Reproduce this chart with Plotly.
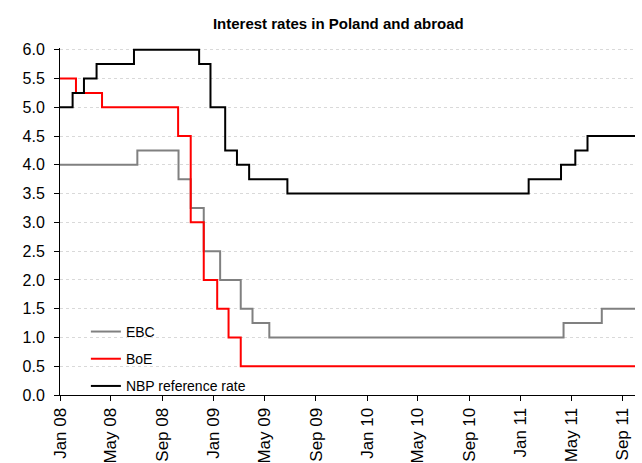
import plotly.graph_objects as go

# Policy rate change dates and levels (step series), extended to the end of the range
ebc_dates = ["2008-01-01", "2008-07-03", "2008-10-09", "2008-11-07", "2008-12-08",
             "2009-01-16", "2009-03-06", "2009-04-03", "2009-05-13", "2011-04-13",
             "2011-07-13", "2011-09-30"]
ebc_values = [4.00, 4.25, 3.75, 3.25, 2.50, 2.00, 1.50, 1.25, 1.00, 1.25, 1.50, 1.50]

boe_dates = ["2008-01-01", "2008-02-08", "2008-04-10", "2008-10-08", "2008-11-07",
             "2008-12-08", "2009-01-09", "2009-02-05", "2009-03-06", "2011-09-30"]
boe_values = [5.50, 5.25, 5.00, 4.50, 3.00, 2.00, 1.50, 1.00, 0.50, 0.50]

nbp_dates = ["2008-01-01", "2008-01-31", "2008-02-27", "2008-03-28", "2008-06-25",
             "2008-11-27", "2008-12-24", "2009-01-28", "2009-02-25", "2009-03-26",
             "2009-06-25", "2011-01-20", "2011-04-07", "2011-05-11", "2011-06-09",
             "2011-09-30"]
nbp_values = [5.00, 5.25, 5.50, 5.75, 6.00, 5.75, 5.00, 4.25, 4.00, 3.75,
              3.50, 3.75, 4.00, 4.25, 4.50, 4.50]

tick_dates = ["2008-01-01", "2008-05-01", "2008-09-01", "2009-01-01", "2009-05-01",
              "2009-09-01", "2010-01-01", "2010-05-01", "2010-09-01", "2011-01-01",
              "2011-05-01", "2011-09-01"]
tick_labels = ["Jan 08", "May 08", "Sep 08", "Jan 09", "May 09", "Sep 09",
               "Jan 10", "May 10", "Sep 10", "Jan 11", "May 11", "Sep 11"]

FONT = "Arial, Liberation Sans, sans-serif"

fig = go.Figure()
fig.add_trace(go.Scatter(x=ebc_dates, y=ebc_values, name="EBC", mode="lines",
                         line=dict(color="#808080", width=2, shape="hv"),
                         legendgroup="a"))
fig.add_trace(go.Scatter(x=boe_dates, y=boe_values, name="BoE", mode="lines",
                         line=dict(color="#ff0000", width=2, shape="hv"),
                         legendgroup="b"))
fig.add_trace(go.Scatter(x=nbp_dates, y=nbp_values, name="NBP reference rate", mode="lines",
                         line=dict(color="#000000", width=2, shape="hv"),
                         legendgroup="c"))

fig.update_layout(
    width=642, height=463,
    margin=dict(l=60, r=7, t=48, b=68),
    paper_bgcolor="white", plot_bgcolor="white",
    font=dict(family=FONT, color="#000000"),
    title=dict(text="<b>Interest rates in Poland and abroad</b>",
               x=0.527, xanchor="center", y=0.948, yanchor="middle",
               font=dict(size=15, family=FONT, color="#000000")),
    showlegend=True,
    legend=dict(x=0.045, y=-0.02, xanchor="left", yanchor="bottom",
                bgcolor="rgba(255,255,255,0)", tracegroupgap=6,
                font=dict(size=14, family=FONT, color="#000000")),
    xaxis=dict(type="date", range=["2008-01-01", "2011-09-30"],
               tickmode="array", tickvals=tick_dates, ticktext=tick_labels,
               tickangle=-90, tickfont=dict(size=17, family=FONT, color="#000000"),
               showgrid=False, zeroline=False, automargin=False,
               showline=True, linecolor="#000000", linewidth=1,
               ticks="outside", ticklen=5, tickcolor="#000000"),
    yaxis=dict(range=[0, 6.03], tickmode="linear", tick0=0, dtick=0.5,
               tickformat=".1f", tickfont=dict(size=16, family=FONT, color="#000000"),
               showgrid=True, gridcolor="#d9d9d9", griddash="dot", gridwidth=1,
               zeroline=False, showline=True, linecolor="#000000", linewidth=1,
               ticks="outside", ticklen=5, tickcolor="#000000", automargin=False,
               ticklabelstandoff=6),
)

fig.write_html("out.html")
